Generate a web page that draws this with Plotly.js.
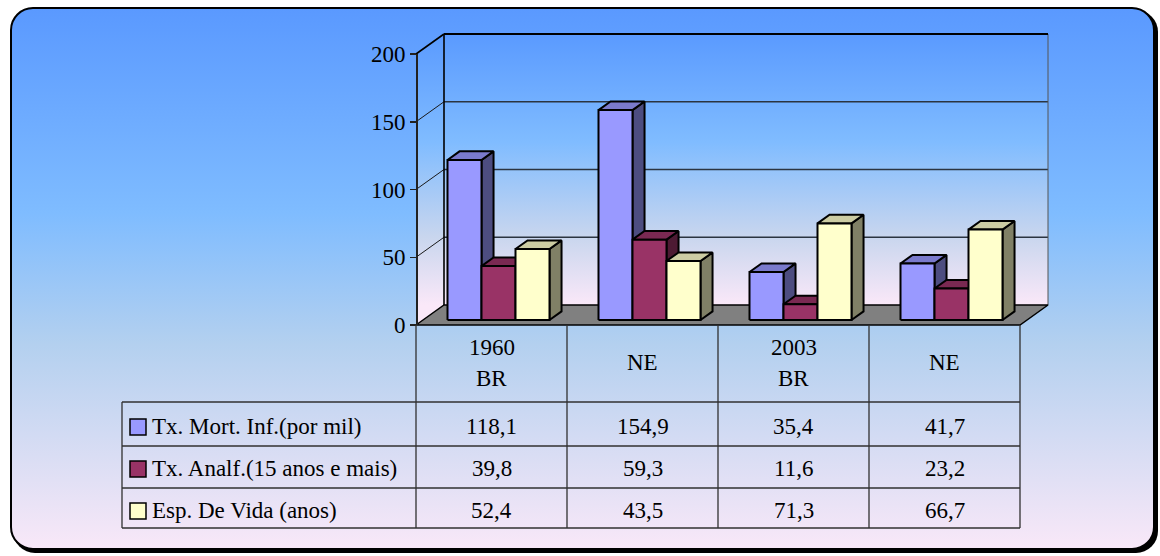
<!DOCTYPE html>
<html>
<head>
<meta charset="utf-8">
<script src="https://cdn.plot.ly/plotly-3.0.1.min.js"></script>
<style>
  html, body { margin: 0; padding: 0; background: #ffffff; }
  #chart { width: 1160px; height: 556px; }
</style>
</head>
<body>
<div id="chart"></div>
<script>
// ---- data ----
const categories = ['1960<br>BR', 'NE', '2003<br>BR', 'NE'];
const seriesNames = ['Tx. Mort. Inf.(por mil)', 'Tx. Analf.(15 anos e mais)', 'Esp. De Vida (anos)'];
const mortInf = [118.1, 154.9, 35.4, 41.7];
const analf = [39.8, 59.3, 11.6, 23.2];
const espVida = [52.4, 43.5, 71.3, 66.7];
const yTicks = [0, 50, 100, 150, 200];

const seriesValues = [mortInf, analf, espVida];
// front / top / side shades of each series
const seriesColors = [
  { front: '#9999ff', top: '#7a7acc', side: '#4d4d80' },
  { front: '#993366', top: '#7a2952', side: '#4d1a33' },
  { front: '#ffffcc', top: '#cccca3', side: '#808066' }
];

// ---- geometry of the pseudo-3D scene ----
const FIG_W = 1160, FIG_H = 556;
const PX_X = 151;          // pixels per category
const PX_Y = 1.355;        // pixels per value unit
const X0 = 416, Y0 = 325;  // pixel position of category 0 / value 0 on the front plane
const DEPTH_X = 28 / PX_X; // floor depth, in axis units
const DEPTH_Y = 20 / PX_Y;
const BAR_W = 34 / PX_X;
const BAR_FRONT = 0.25;    // bar front face position within the depth
const BAR_DEPTH = 0.43;    // bar depth as fraction of floor depth
const Y_MAX = 200;
const NCAT = categories.length;

const xo = BAR_FRONT * DEPTH_X, yo = BAR_FRONT * DEPTH_Y;
const bx = BAR_DEPTH * DEPTH_X, by = BAR_DEPTH * DEPTH_Y;

const px = x => x / FIG_W;
const py = y => 1 - y / FIG_H;

const traces = [];

// wall lines: segments joined with null gaps
function segTrace(segs, color, width) {
  const x = [], y = [];
  segs.forEach(s => { x.push(s[0], s[2], null); y.push(s[1], s[3], null); });
  return { type: 'scatter', mode: 'lines', x, y, line: { color, width },
    hoverinfo: 'skip', showlegend: false };
}
const gridSegs = [], sideSegs = [];
yTicks.forEach(t => {
  if (t > 0 && t < Y_MAX) gridSegs.push([DEPTH_X, t + DEPTH_Y, NCAT + DEPTH_X, t + DEPTH_Y]);
  if (t > 0 && t < Y_MAX) sideSegs.push([0, t, DEPTH_X, t + DEPTH_Y]);
});
traces.push(segTrace(gridSegs, '#2b3440', 1.3));
traces.push(segTrace(sideSegs, '#1a1a1a', 1));
traces.push(segTrace([[NCAT + DEPTH_X, DEPTH_Y, NCAT + DEPTH_X, Y_MAX + DEPTH_Y]], '#555', 1));
traces.push(segTrace([
  [0, Y_MAX, DEPTH_X, Y_MAX + DEPTH_Y],
  [DEPTH_X, DEPTH_Y, DEPTH_X, Y_MAX + DEPTH_Y]
], '#000', 1.6));
traces.push(segTrace([[DEPTH_X, Y_MAX + DEPTH_Y, NCAT + DEPTH_X, Y_MAX + DEPTH_Y]], '#000', 2));

// floor
traces.push({
  type: 'scatter', mode: 'lines', fill: 'toself', fillcolor: '#808080',
  x: [0, NCAT, NCAT + DEPTH_X, DEPTH_X, 0],
  y: [0, 0, DEPTH_Y, DEPTH_Y, 0],
  line: { color: '#000', width: 1.5 }, hoverinfo: 'skip', showlegend: false
});

// bars: side, top and front faces, series by series
seriesValues.forEach((vals, s) => {
  const faces = { side: { x: [], y: [] }, top: { x: [], y: [] }, front: { x: [], y: [] } };
  vals.forEach((v, i) => {
    const xl = i + 0.5 - 1.5 * BAR_W + s * BAR_W + xo;
    const xr = xl + BAR_W;
    const yb = yo, yt = yo + v;
    const add = (f, pts) => {
      pts.forEach(p => { f.x.push(p[0]); f.y.push(p[1]); });
      f.x.push(pts[0][0], null); f.y.push(pts[0][1], null);
    };
    add(faces.side, [[xr, yb], [xr, yt], [xr + bx, yt + by], [xr + bx, yb + by]]);
    add(faces.top, [[xl, yt], [xl + bx, yt + by], [xr + bx, yt + by], [xr, yt]]);
    add(faces.front, [[xl, yb], [xl, yt], [xr, yt], [xr, yb]]);
  });
  ['side', 'top', 'front'].forEach(k => {
    traces.push({
      type: 'scatter', mode: 'lines', fill: 'toself',
      fillcolor: seriesColors[s][k],
      x: faces[k].x, y: faces[k].y,
      line: { color: '#000', width: 2 },
      hoverinfo: 'skip', showlegend: false
    });
  });
});

// value axis subplot (carries the tick labels)
traces.push({ type: 'scatter', x: [null], y: [null], xaxis: 'x', yaxis: 'y2', hoverinfo: 'skip', showlegend: false });

// ---- backgrounds ----
const outerSvg =
  '<svg xmlns="http://www.w3.org/2000/svg" width="1160" height="556" viewBox="0 0 1160 556">' +
  '<defs><linearGradient id="g" x1="0" y1="0" x2="0" y2="1">' +
  '<stop offset="0" stop-color="#5a99ff"/><stop offset="0.38" stop-color="#7fbcff"/>' +
  '<stop offset="0.62" stop-color="#b3d0ef"/><stop offset="1" stop-color="#f9e8f8"/>' +
  '</linearGradient></defs>' +
  '<rect x="13" y="10" width="1145" height="543" rx="22" ry="22" fill="#000"/>' +
  '<rect x="11" y="8" width="1143" height="541" rx="22" ry="22" fill="url(#g)" stroke="#000" stroke-width="2"/>' +
  '</svg>';

const wallW = (NCAT + DEPTH_X) * PX_X, wallH = (Y_MAX + DEPTH_Y) * PX_Y;
const dxp = DEPTH_X * PX_X, dyp = DEPTH_Y * PX_Y;
const wallSvg =
  '<svg xmlns="http://www.w3.org/2000/svg" width="' + wallW + '" height="' + wallH + '" viewBox="0 0 ' + wallW + ' ' + wallH + '" preserveAspectRatio="none">' +
  '<defs><linearGradient id="w" gradientUnits="userSpaceOnUse" x1="0" y1="0" x2="0" y2="' + (wallH - dyp) + '">' +
  '<stop offset="0" stop-color="#5a9aff"/><stop offset="0.4" stop-color="#80bcff"/>' +
  '<stop offset="0.75" stop-color="#c9d6ee"/><stop offset="1" stop-color="#fae8f8"/>' +
  '</linearGradient></defs>' +
  '<polygon points="0,' + wallH + ' ' + dxp + ',' + (wallH - dyp) + ' ' + dxp + ',0 0,' + dyp + '" fill="url(#w)"/>' +
  '<rect x="' + dxp + '" y="0" width="' + (wallW - dxp) + '" height="' + (wallH - dyp) + '" fill="url(#w)"/>' +
  '</svg>';

const svgUri = s => 'data:image/svg+xml;charset=utf-8,' + encodeURIComponent(s);

const images = [
  { source: svgUri(outerSvg), xref: 'paper', yref: 'paper', x: 0, y: 1, sizex: 1, sizey: 1,
    xanchor: 'left', yanchor: 'top', sizing: 'stretch', layer: 'below' },
  { source: svgUri(wallSvg), xref: 'x', yref: 'y', x: 0, y: Y_MAX + DEPTH_Y,
    sizex: NCAT + DEPTH_X, sizey: Y_MAX + DEPTH_Y,
    xanchor: 'left', yanchor: 'top', sizing: 'stretch', layer: 'below' }
];

// ---- data table ----
const shapes = [];
const TABLE_LEFT = 122, HEAD_TOP = 325, HEAD_BOTTOM = 402, TABLE_BOTTOM = 528;
const rowLines = [402, 446, 488, 528];
const rowCenters = [426, 468, 510];
const tableColor = '#303030';
rowLines.forEach(yl => shapes.push({
  type: 'line', xref: 'paper', yref: 'paper', x0: px(TABLE_LEFT), x1: px(X0 + NCAT * PX_X),
  y0: py(yl), y1: py(yl), line: { color: tableColor, width: 1.3 }
}));
shapes.push({ type: 'line', xref: 'paper', yref: 'paper', x0: px(TABLE_LEFT), x1: px(TABLE_LEFT),
  y0: py(HEAD_BOTTOM), y1: py(TABLE_BOTTOM), line: { color: tableColor, width: 1.3 } });
for (let i = 0; i <= NCAT; i++) {
  shapes.push({ type: 'line', xref: 'x', yref: 'paper', x0: i, x1: i,
    y0: py(HEAD_TOP), y1: py(TABLE_BOTTOM), line: { color: tableColor, width: 1.3 } });
}

const font = { family: 'Liberation Serif, Times New Roman, serif', size: 23, color: '#000' };
const annotations = [];

// header: category labels
categories.forEach((c, i) => {
  const parts = c.split('<br>');
  const mid = (HEAD_TOP + HEAD_BOTTOM) / 2 - 1;
  parts.forEach((p, k) => {
    const yc = parts.length === 1 ? mid : mid + (k - (parts.length - 1) / 2) * 31;
    annotations.push({ xref: 'x', yref: 'paper', x: i + 0.5, y: py(yc), text: p,
      showarrow: false, font, xanchor: 'center', yanchor: 'middle' });
  });
});

// rows: legend key, series name, values
seriesNames.forEach((name, s) => {
  const yc = rowCenters[s];
  shapes.push({ type: 'rect', xref: 'paper', yref: 'paper',
    x0: px(130), x1: px(146), y0: py(yc - 7), y1: py(yc + 9),
    fillcolor: seriesColors[s].front, line: { color: '#000', width: 1.5 } });
  annotations.push({ xref: 'paper', yref: 'paper', x: px(150), y: py(yc), text: name,
    showarrow: false, font, xanchor: 'left', yanchor: 'middle' });
  seriesValues[s].forEach((v, i) => {
    annotations.push({ xref: 'x', yref: 'paper', x: i + 0.5, y: py(yc),
      text: v.toFixed(1).replace('.', ','), showarrow: false, font,
      xanchor: 'center', yanchor: 'middle' });
  });
});

const layout = {
  width: FIG_W, height: FIG_H,
  margin: { l: 0, r: 0, t: 0, b: 0, pad: 0 },
  paper_bgcolor: 'rgba(0,0,0,0)', plot_bgcolor: 'rgba(0,0,0,0)',
  showlegend: false,
  xaxis: { range: [-X0 / PX_X, (FIG_W - X0) / PX_X], visible: false, fixedrange: true, domain: [0, 1] },
  yaxis: { range: [(Y0 - FIG_H) / PX_Y, Y0 / PX_Y], visible: false, fixedrange: true, domain: [0, 1] },
  yaxis2: {
    domain: [py(Y0), py(Y0 - Y_MAX * PX_Y)], range: [0, Y_MAX],
    anchor: 'free', position: px(X0), side: 'left',
    tickvals: yTicks, ticktext: yTicks.map(String),
    showline: true, linecolor: '#222', linewidth: 1.5,
    ticks: 'outside', ticklen: 6, tickwidth: 1.5, tickcolor: '#222',
    showgrid: false, zeroline: false, tickfont: font, fixedrange: true
  },
  images, shapes, annotations
};

Plotly.newPlot('chart', traces, layout, { staticPlot: true, displayModeBar: false });
</script>
</body>
</html>
